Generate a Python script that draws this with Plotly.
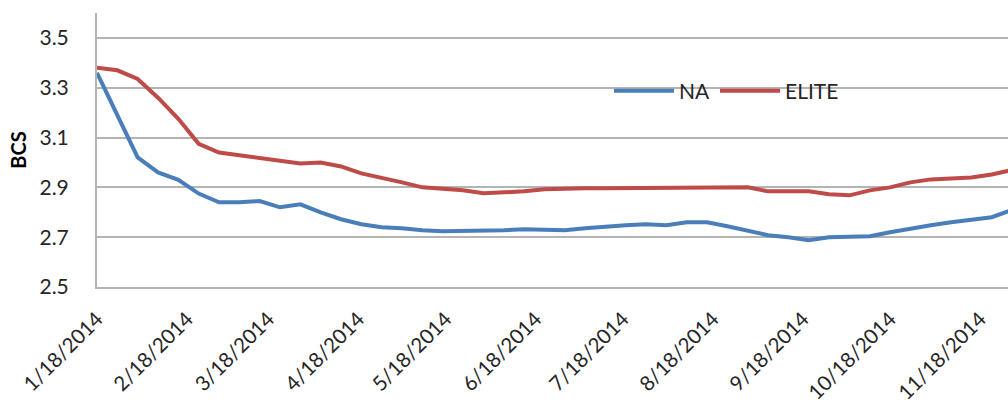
import pandas as pd
import plotly.graph_objects as go

# Weekly readings, starting 1/18/2014
start_date = "2014-01-18"
n_weeks = 46
dates = pd.date_range(start_date, periods=n_weeks, freq="7D")

na_bcs = [
    3.36, 3.19, 3.02, 2.96, 2.93, 2.875, 2.84, 2.84, 2.845, 2.82,
    2.832, 2.80, 2.772, 2.752, 2.74, 2.736, 2.728, 2.724, 2.724, 2.724,
    2.728, 2.732, 2.728, 2.728, 2.736, 2.744, 2.748, 2.752, 2.748, 2.76,
    2.76, 2.744, 2.728, 2.708, 2.70, 2.688, 2.70, 2.70, 2.704, 2.72,
    2.736, 2.748, 2.76, 2.772, 2.78, 2.81,
]
elite_bcs = [
    3.38, 3.37, 3.335, 3.26, 3.175, 3.075, 3.04, 3.028, 3.016, 3.004,
    2.996, 3.0, 2.984, 2.956, 2.94, 2.92, 2.90, 2.896, 2.888, 2.876,
    2.88, 2.884, 2.892, 2.896, 2.896, 2.896, 2.896, 2.896, 2.90, 2.90,
    2.90, 2.90, 2.90, 2.884, 2.884, 2.884, 2.872, 2.868, 2.888, 2.90,
    2.92, 2.932, 2.936, 2.94, 2.952, 2.97,
]

# Monthly ticks on the 18th
tick_dates = pd.date_range("2014-01-01", periods=11, freq="MS") + pd.Timedelta(days=17)
tick_labels = [f"{d.month}/{d.day}/{d.year}" for d in tick_dates]

FONT = "Lato"
GRID = "#B4B4B4"

fig = go.Figure()
fig.add_trace(go.Scatter(x=dates, y=na_bcs, mode="lines", name="NA",
                         line=dict(color="#4A7EBB", width=4)))
fig.add_trace(go.Scatter(x=dates, y=elite_bcs, mode="lines", name="ELITE",
                         line=dict(color="#BE4B48", width=4)))

fig.update_layout(
    width=1008, height=404,
    margin=dict(l=97, r=0, t=13, b=117),
    paper_bgcolor="white", plot_bgcolor="white",
    font=dict(family=FONT, size=21, color="#262626"),
    showlegend=True,
    legend=dict(orientation="h", x=0.562, y=0.715, xanchor="left", yanchor="middle",
                bgcolor="rgba(0,0,0,0)", font=dict(family=FONT, size=21, color="#262626"),
                itemwidth=60, tracegroupgap=0),
)
fig.update_xaxes(
    type="date", automargin=False,
    range=["2014-01-18", "2014-11-27 14:00"],
    tickmode="array", tickvals=tick_dates, ticktext=tick_labels,
    tickangle=-45, ticks="", ticklabelstandoff=10,
    showgrid=False, zeroline=False,
    showline=True, linecolor=GRID, linewidth=2,
    tickfont=dict(family=FONT, size=20.5, color="#262626"),
)
fig.update_yaxes(
    automargin=False,
    range=[2.5, 3.6], tick0=2.5, dtick=0.2, tickformat=".1f",
    ticks="", ticklabelstandoff=22,
    showgrid=True, gridcolor=GRID, gridwidth=2, zeroline=False,
    showline=True, linecolor=GRID, linewidth=2,
    title=dict(text="<b>BCS</b>", font=dict(family=FONT, size=20, color="#000000"), standoff=7),
    tickfont=dict(family=FONT, size=21, color="#262626"),
)

fig.write_html("out.html")
